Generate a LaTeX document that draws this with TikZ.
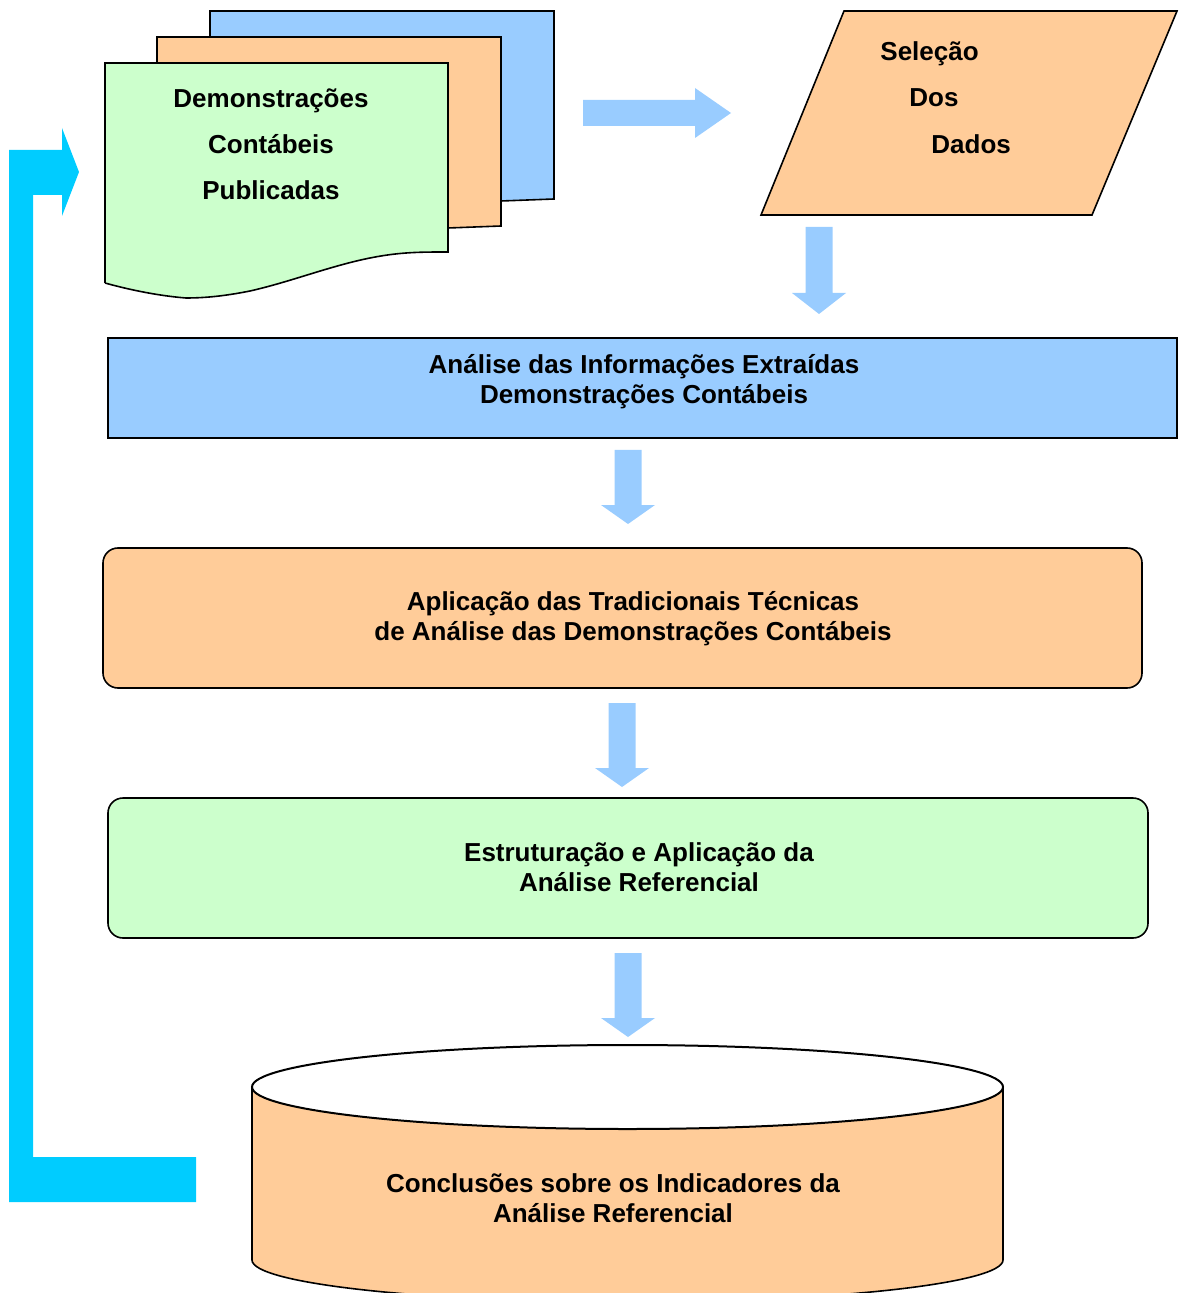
\documentclass[tikz,border=0pt]{standalone}
\usepackage{fontspec}
\setmainfont{Liberation Sans}
\usetikzlibrary{positioning}
\definecolor{boxblue}{HTML}{99CCFF}
\definecolor{boxorange}{HTML}{FFCC99}
\definecolor{boxgreen}{HTML}{CCFFCC}
\definecolor{arrowblue}{HTML}{99CCFF}
\definecolor{loopcyan}{HTML}{00CCFF}
\tikzset{
  outline/.style={draw=black, line width=0.8pt, line join=miter},
  lbl/.style={font=\fontsize{13}{15}\selectfont\bfseries, align=center, inner sep=0pt},
  blockarrow/.style={fill=arrowblue, draw=none},
}
\newcommand\dnarr[4]{% cx, ytop, yneck, ytip
  \fill[blockarrow] (#1-13.5,#2) -- (#1+13.5,#2) -- (#1+13.5,#3) -- (#1+27,#3)
    -- (#1,#4) -- (#1-27,#3) -- (#1-13.5,#3) -- cycle;}
\begin{document}
\begin{tikzpicture}[x=0.5pt,y=-0.5pt]
\useasboundingbox (0,0) rectangle (1178,1293);
\begin{scope}
\clip (0,0) rectangle (1178,1293);
% document stack
\draw[outline, fill=boxblue] (210,205) -- (210,11) -- (554,11) -- (554,199) -- (501,201) -- (501,205) -- cycle;
\draw[outline, fill=boxorange] (157,232) -- (157,37) -- (501,37) -- (501,226) -- (448,228) -- (448,232) -- cycle;
\draw[outline, fill=boxgreen] (105,283) -- (105,63) -- (448,63) -- (448,252)
  .. controls (420,252) and (400,252) .. (370,258)
  .. controls (330,266) and (290,282) .. (250,291)
  .. controls (225,296) and (205,298) .. (186,298)
  .. controls (160,296) and (130,290) .. (105,283);
\node[lbl] (d1) at (271,101) {Demonstrações};
\node[lbl] (d2) at (271,144) {Contábeis};
\node[lbl] (d3) at (271,190) {Publicadas};
% right arrow
\fill[blockarrow] (583,100) -- (695,100) -- (695,88) -- (731,113) -- (695,138) -- (695,126) -- (583,126) -- cycle;
% parallelogram
\draw[outline, fill=boxorange] (844,11) -- (1177,11) -- (1092,215) -- (761,215) -- cycle;
\node[lbl, anchor=west] (s1) at (880,54) {Seleção};
\node[lbl, anchor=west] (s2) at (909,98) {Dos};
\node[lbl, anchor=west] (s3) at (931,144) {Dados};
\dnarr{819}{227}{293}{314}
% box 1
\draw[outline, line width=1pt, fill=boxblue] (108,338) rectangle (1177,438);
\node[lbl] (b1) at (644,382) {Análise das Informações Extraídas\\Demonstrações Contábeis};
\dnarr{628}{450}{505}{524}
% box 2
\draw[outline, fill=boxorange, rounded corners=7.5pt] (103,548) rectangle (1142,688);
\node[lbl] (b2) at (633,619) {Aplicação das Tradicionais Técnicas\\de Análise das Demonstrações Contábeis};
\dnarr{622}{703}{768}{787}
% box 3
\draw[outline, fill=boxgreen, rounded corners=7.5pt] (108,798) rectangle (1148,938);
\node[lbl] (b3) at (639,867) {Estruturação e Aplicação da\\Análise Referencial};
\dnarr{628}{953}{1018}{1037}
% cylinder
\draw[outline, fill=boxorange] (252,1087) -- (252,1260)
  arc[start angle=180, end angle=0, x radius=375.5, y radius=42] -- (1003,1087);
\draw[outline, line width=1pt, fill=white] (627.5,1087) ellipse [x radius=375.5, y radius=42];
\node[lbl] (c1) at (613,1198) {Conclusões sobre os Indicadores da\\Análise Referencial};
% loop arrow
\fill[loopcyan] (9,150) -- (62,150) -- (62,128) -- (79,172) -- (62,216) -- (62,195)
  -- (33,195) -- (33,1157) -- (196,1157) -- (196,1202) -- (9,1202) -- cycle;
\end{scope}
\end{tikzpicture}
\end{document}
